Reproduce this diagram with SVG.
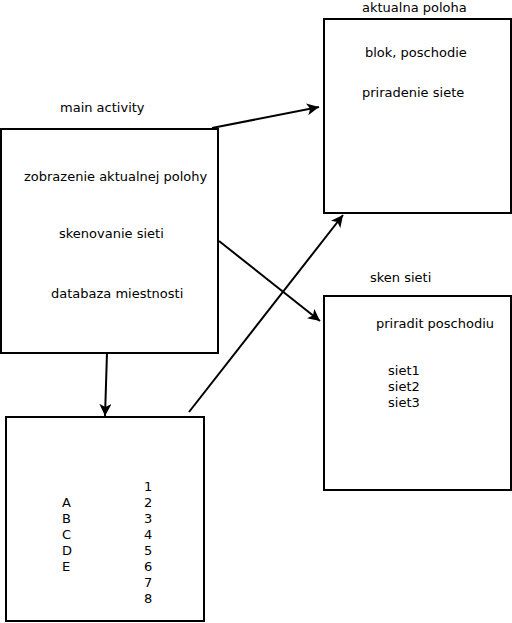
<svg xmlns="http://www.w3.org/2000/svg" width="512" height="623" viewBox="0 0 512 623">
<style>
.box{fill:#fff;stroke:#000;stroke-width:2}
text{font-family:"DejaVu Sans",sans-serif;font-size:13px;fill:#000}
.c{fill:none;stroke:#000;stroke-width:2}
</style>
<defs>
<marker id="ah" markerWidth="14" markerHeight="12" refX="12" refY="6" orient="auto" markerUnits="userSpaceOnUse">
<path d="M0,0 L12,6 L0,12 L3,6 Z" fill="#000"/>
</marker>
</defs>
<rect width="512" height="623" fill="#fff"/>
<g id="main-activity">
<rect class="box" x="1" y="129" width="217" height="224"/>
<text x="60" y="112">main activity</text>
<text x="24" y="181">zobrazenie aktualnej polohy</text>
<text x="59" y="238">skenovanie sieti</text>
<text x="51" y="298">databaza miestnosti</text>
</g>
<g id="aktualna-poloha">
<rect class="box" x="324" y="19" width="187" height="194"/>
<text x="362" y="12">aktualna poloha</text>
<text x="365" y="57">blok, poschodie</text>
<text x="362" y="97">priradenie siete</text>
</g>
<g id="sken-sieti">
<rect class="box" x="324" y="296" width="187" height="194"/>
<text x="370" y="282">sken sieti</text>
<text x="376" y="328">priradit poschodiu</text>
<text x="388" y="375">siet1</text>
<text x="388" y="391">siet2</text>
<text x="388" y="407">siet3</text>
</g>
<g id="databaza">
<rect class="box" x="6" y="417" width="198" height="204"/>
<text x="62" y="507">A</text>
<text x="62" y="523">B</text>
<text x="62" y="539">C</text>
<text x="62" y="555">D</text>
<text x="62" y="571">E</text>
<text x="144" y="491">1</text>
<text x="144" y="507">2</text>
<text x="144" y="523">3</text>
<text x="144" y="539">4</text>
<text x="144" y="555">5</text>
<text x="144" y="571">6</text>
<text x="144" y="587">7</text>
<text x="144" y="603">8</text>
</g>
<g id="connectors">
<line class="c" x1="212" y1="128" x2="319" y2="107" marker-end="url(#ah)"/>
<line class="c" x1="219" y1="241" x2="320" y2="321" marker-end="url(#ah)"/>
<line class="c" x1="107" y1="353" x2="105" y2="416" marker-end="url(#ah)"/>
<line class="c" x1="189" y1="412" x2="343" y2="215" marker-end="url(#ah)"/>
</g>
</svg>
